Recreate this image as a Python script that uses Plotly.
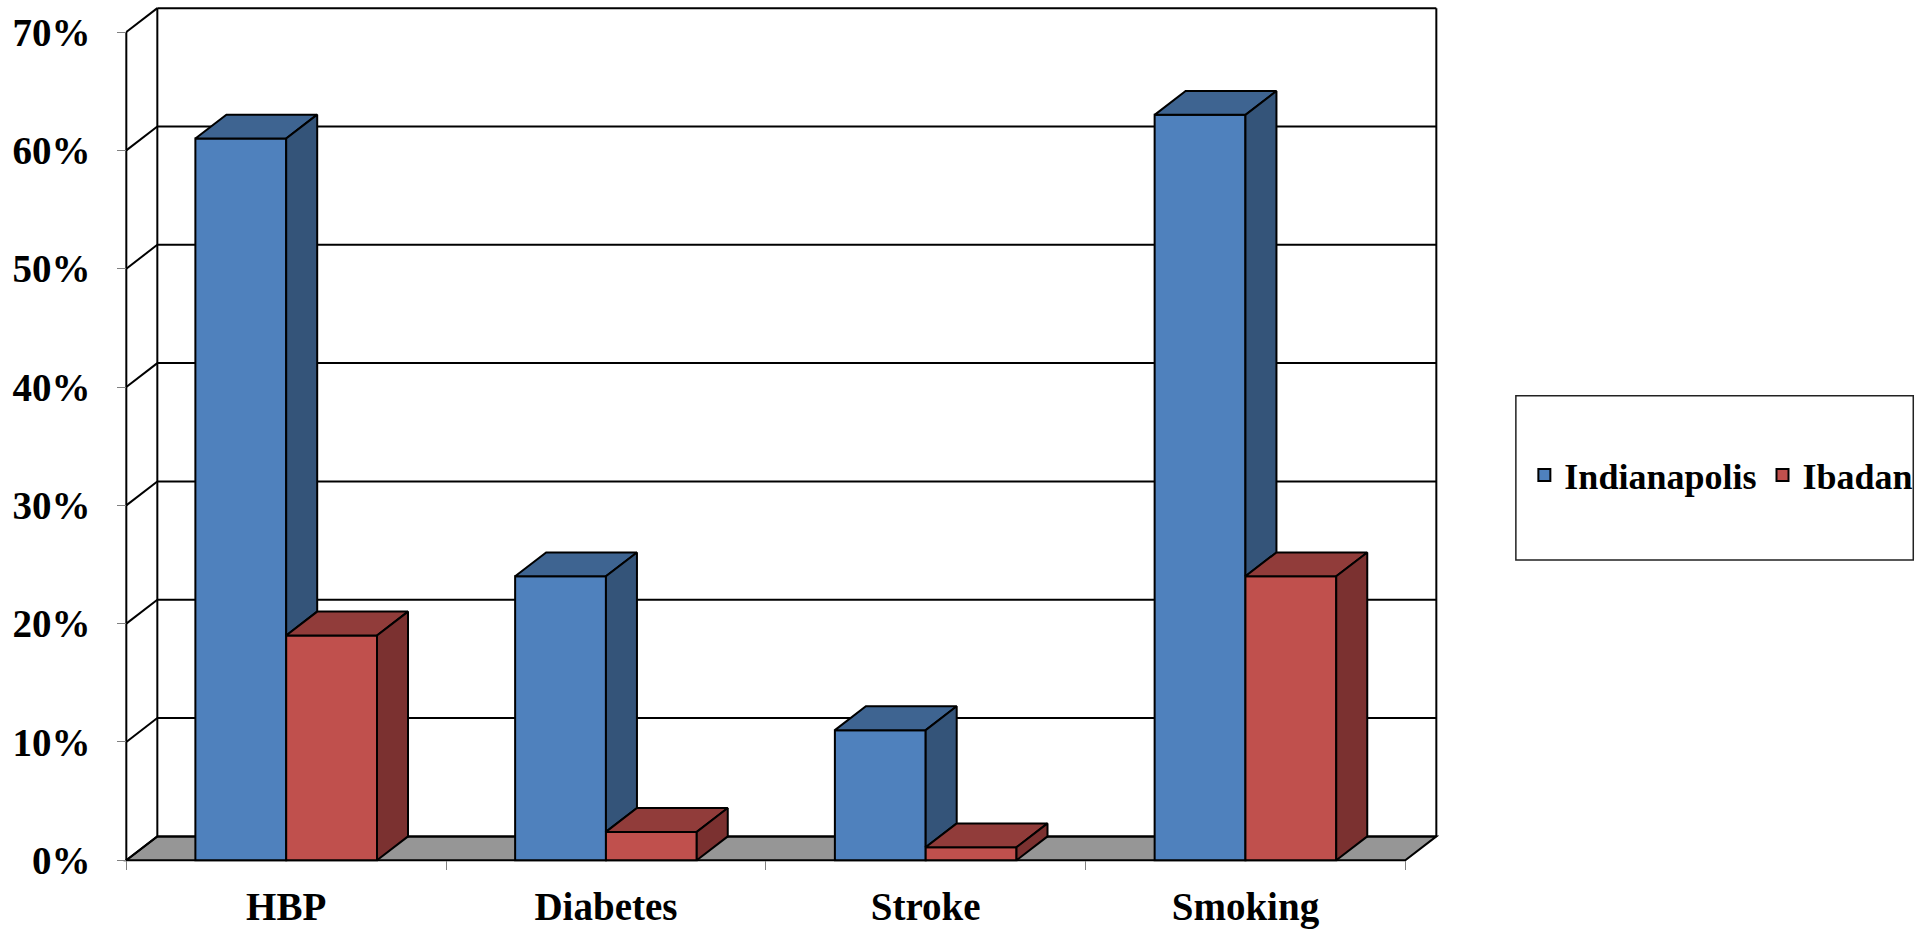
import plotly.graph_objects as go

# ---- data -------------------------------------------------------------
categories = ["HBP", "Diabetes", "Stroke", "Smoking"]
indianapolis = [61, 24, 11, 63]
ibadan = [19, 2.4, 1.1, 24]
y_ticks = [0, 10, 20, 30, 40, 50, 60, 70]
y_tick_labels = [f"{v}%" for v in y_ticks]

# ---- look ---------------------------------------------------------------
BAR_W = 0.284        # width of one bar, in category units
DEPTH_X = 0.097      # oblique depth of the 3-D box, x direction (category units)
DEPTH_Y = 2.02       # oblique depth of the 3-D box, y direction (percent units)
X_RANGE = [-0.526, 3.621]
Y_RANGE = [-0.65, 72.37]
FONT = "Liberation Serif"

BLUE = dict(front="#4F81BD", top="#3E6491", side="#345479")
RED = dict(front="#C0504D", top="#913C3A", side="#7B3130")
FLOOR = "#969696"
EDGE = "black"

x_idx = list(range(len(categories)))
x_lo, x_hi = -0.5, len(categories) - 0.5
y_top = y_ticks[-1]


def faces(lefts, heights, bases):
    """Top and right-side polygons of oblique 3-D bars."""
    tx, ty, sx, sy = [], [], [], []
    for x0, h, b in zip(lefts, heights, bases):
        x1 = x0 + BAR_W
        tx += [x0, x1, x1 + DEPTH_X, x0 + DEPTH_X, x0, None]
        ty += [h, h, h + DEPTH_Y, h + DEPTH_Y, h, None]
        if h > b:
            sx += [x1, x1, x1 + DEPTH_X, x1 + DEPTH_X, x1, None]
            sy += [b, h, h + DEPTH_Y, b + DEPTH_Y, b, None]
    return tx, ty, sx, sy


fig = go.Figure()

series = [
    ("Indianapolis", indianapolis, BLUE, -BAR_W, ibadan, "legend"),
    ("Ibadan", ibadan, RED, 0.0, [0] * len(ibadan), "legend2"),
]

# front faces as real bars
for name, vals, col, off, _, leg in series:
    fig.add_trace(go.Bar(
        name=name, x=x_idx, y=vals, width=BAR_W, offset=off, legend=leg,
        marker=dict(color=col["front"], line=dict(color=EDGE, width=2)),
        hoverinfo="skip",
    ))

# top and side faces, painted left to right
for name, vals, col, off, hidden_below, _ in series:
    lefts = [i + off for i in x_idx]
    tx, ty, sx, sy = faces(lefts, vals, hidden_below)
    for fx, fy, fc in ((tx, ty, col["top"]), (sx, sy, col["side"])):
        if fx:
            fig.add_trace(go.Scatter(
                x=fx, y=fy, mode="lines", fill="toself", fillcolor=fc,
                line=dict(color=EDGE, width=2), hoverinfo="skip",
                showlegend=False,
            ))

# ---- box walls ------------------------------------------------------------
shapes = []
# floor
shapes.append(dict(
    type="path", xref="x", yref="y", layer="below",
    path=(f"M{x_lo},0 L{x_hi},0 L{x_hi + DEPTH_X},{DEPTH_Y} "
          f"L{x_lo + DEPTH_X},{DEPTH_Y} Z"),
    fillcolor=FLOOR, line=dict(color=EDGE, width=2),
))
for v in y_ticks:
    # gridline on back wall
    shapes.append(dict(type="line", xref="x", yref="y", layer="below",
                       x0=x_lo + DEPTH_X, x1=x_hi + DEPTH_X,
                       y0=v + DEPTH_Y, y1=v + DEPTH_Y,
                       line=dict(color=EDGE, width=2)))
    # gridline on side wall
    shapes.append(dict(type="line", xref="x", yref="y", layer="below",
                       x0=x_lo, x1=x_lo + DEPTH_X, y0=v, y1=v + DEPTH_Y,
                       line=dict(color=EDGE, width=2)))
# verticals: front axis, back-left corner, back-right edge
for xv, dy in ((x_lo, 0), (x_lo + DEPTH_X, DEPTH_Y), (x_hi + DEPTH_X, DEPTH_Y)):
    shapes.append(dict(type="line", xref="x", yref="y", layer="below",
                       x0=xv, x1=xv, y0=dy, y1=y_top + dy,
                       line=dict(color=EDGE, width=2)))

# legend frame
shapes.append(dict(type="rect", xref="paper", yref="paper",
                   x0=1.0542, x1=1.3539, y0=0.3564, y1=0.5467,
                   line=dict(color="#222222", width=1.5), fillcolor="white",
                   layer="below"))

ypos = (x_lo - X_RANGE[0]) / (X_RANGE[1] - X_RANGE[0])
xpos = (0 - Y_RANGE[0]) / (Y_RANGE[1] - Y_RANGE[0])

label_font = dict(family=FONT, size=39, color="black", weight="bold")
legend_font = dict(family=FONT, size=36, color="black", weight="bold")
legend_common = dict(orientation="h", xanchor="left", y=0.4548,
                     yanchor="middle", font=legend_font,
                     bgcolor="rgba(0,0,0,0)", borderwidth=0)

fig.update_layout(
    width=1923, height=933,
    margin=dict(l=118, r=477, t=4, b=62),
    paper_bgcolor="white", plot_bgcolor="white",
    barmode="overlay",
    hovermode=False,
    shapes=shapes,
    showlegend=True,
    legend=dict(x=1.0606, **legend_common),
    legend2=dict(x=1.2402, **legend_common),
    xaxis=dict(
        range=X_RANGE, anchor="free", position=xpos,
        tickmode="array", tickvals=x_idx, ticktext=categories, ticks="",
        tickfont=label_font, ticklabelstandoff=20,
        minor=dict(tickmode="array",
                   tickvals=[i - 0.5 for i in range(len(categories) + 1)],
                   ticks="outside", ticklen=9, tickcolor="#808080", tickwidth=1),
        showgrid=False, zeroline=False, showline=False,
    ),
    yaxis=dict(
        range=Y_RANGE, anchor="free", position=ypos,
        tickmode="array", tickvals=y_ticks, ticktext=y_tick_labels,
        ticks="outside", ticklen=9, tickcolor="#808080", tickwidth=1,
        tickfont=label_font, ticklabelstandoff=19,
        showgrid=False, zeroline=False, showline=False,
    ),
)

fig.write_html("out.html")
